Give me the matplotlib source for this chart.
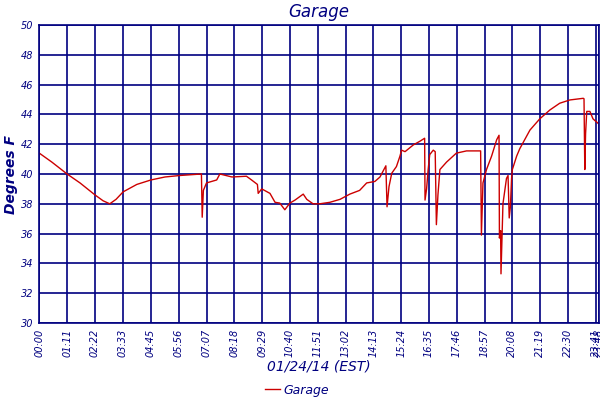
import matplotlib
matplotlib.use("Agg")
import matplotlib.pyplot as plt

# ==========================
# 数据
# ==========================

# 时间 (分钟, 从 00:00 起)
minutes = [
    0, 32, 71, 104, 142, 163, 180, 196, 214, 249, 285, 321, 359,
    414, 416, 419, 427, 453, 461, 492, 529, 542, 557, 559, 568, 589,
    602, 614, 627, 640, 653, 674, 683, 699, 716, 742, 768, 793, 818,
    836, 857, 870, 885, 888, 893, 900, 912, 921, 925, 934, 955, 972,
    984, 985, 989, 993, 997, 1006, 1011, 1014, 1018, 1023, 1040, 1065,
    1091, 1127, 1129, 1133, 1142, 1155, 1168, 1174, 1175, 1178, 1179,
    1184, 1193, 1197, 1200, 1203, 1206, 1208, 1219, 1227, 1253, 1278,
    1304, 1329, 1355, 1389, 1391, 1393, 1395, 1398, 1406, 1414, 1427,
]

# 温度 (°F)
temps = [
    41.4, 40.8, 40.0, 39.4, 38.6, 38.2, 38.0, 38.3, 38.8, 39.3, 39.6, 39.8, 39.9,
    40.0, 37.1, 38.9, 39.4, 39.6, 40.0, 39.8, 39.85, 39.6, 39.3, 38.7, 39.0, 38.7,
    38.1, 38.05, 37.6, 38.05, 38.25, 38.65, 38.3, 38.0, 38.0, 38.1, 38.3, 38.65, 38.9,
    39.4, 39.5, 39.8, 40.55, 37.8, 39.15, 40.05, 40.5, 41.2, 41.6, 41.5, 41.95, 42.2,
    42.4, 38.25, 39.0, 40.3, 41.3, 41.6, 41.5, 36.6, 38.6, 40.3, 40.8, 41.4,
    41.55, 41.55, 35.9, 39.4, 40.3, 41.2, 42.3, 42.6, 35.7, 36.2, 33.3,
    38.0, 39.7, 39.9, 37.05, 37.8, 39.7, 40.3, 41.2, 41.7, 42.95, 43.7,
    44.3, 44.75, 44.97, 45.08, 45.05, 40.3, 42.7, 44.2, 44.2, 43.7, 43.4,
]

tick_minutes = [
    0, 71, 142, 213, 285, 356, 427, 498, 569, 640, 711, 782, 853,
    924, 995, 1066, 1137, 1208, 1279, 1350, 1421, 1428,
]
tick_labels = [
    "00:00", "01:11", "02:22", "03:33", "04:45", "05:56", "07:07", "08:18",
    "09:29", "10:40", "11:51", "13:02", "14:13", "15:24", "16:35", "17:46",
    "18:57", "20:08", "21:19", "22:30", "23:41", "23:48",
]

navy = "#000080"
red = "#cc0000"

fig = plt.figure(figsize=(6, 4), dpi=100)
ax = fig.add_axes([0.0655, 0.1925, 0.932, 0.745])

ax.plot(minutes, temps, color=red, linewidth=1.0, label="Garage")

ax.set_xlim(0, 1428)
ax.set_ylim(30, 50)
ax.set_yticks(range(30, 51, 2))
ax.set_xticks(tick_minutes)
ax.set_xticklabels(tick_labels, rotation=90)

ax.grid(True, color=navy, linewidth=1.2)
ax.set_axisbelow(True)
for s in ax.spines.values():
    s.set_color(navy)
    s.set_linewidth(1.2)
ax.tick_params(length=0, pad=4, colors=navy, labelsize=7)
for t in ax.get_xticklabels() + ax.get_yticklabels():
    t.set_fontstyle("italic")

ax.set_title("Garage", color=navy, fontsize=12, fontstyle="italic", pad=6)
ax.set_ylabel("Degrees F", color=navy, fontsize=10, fontstyle="italic",
              fontweight="bold", labelpad=2)
ax.set_xlabel("01/24/14 (EST)", color=navy, fontsize=10, fontstyle="italic",
              labelpad=2)

leg = fig.legend(loc="lower center", bbox_to_anchor=(0.495, -0.02), frameon=False,
                 handlelength=1.2, handletextpad=0.3, fontsize=9)
for t in leg.get_texts():
    t.set_color(navy)
    t.set_fontstyle("italic")

fig.savefig("out.png", dpi=100)
